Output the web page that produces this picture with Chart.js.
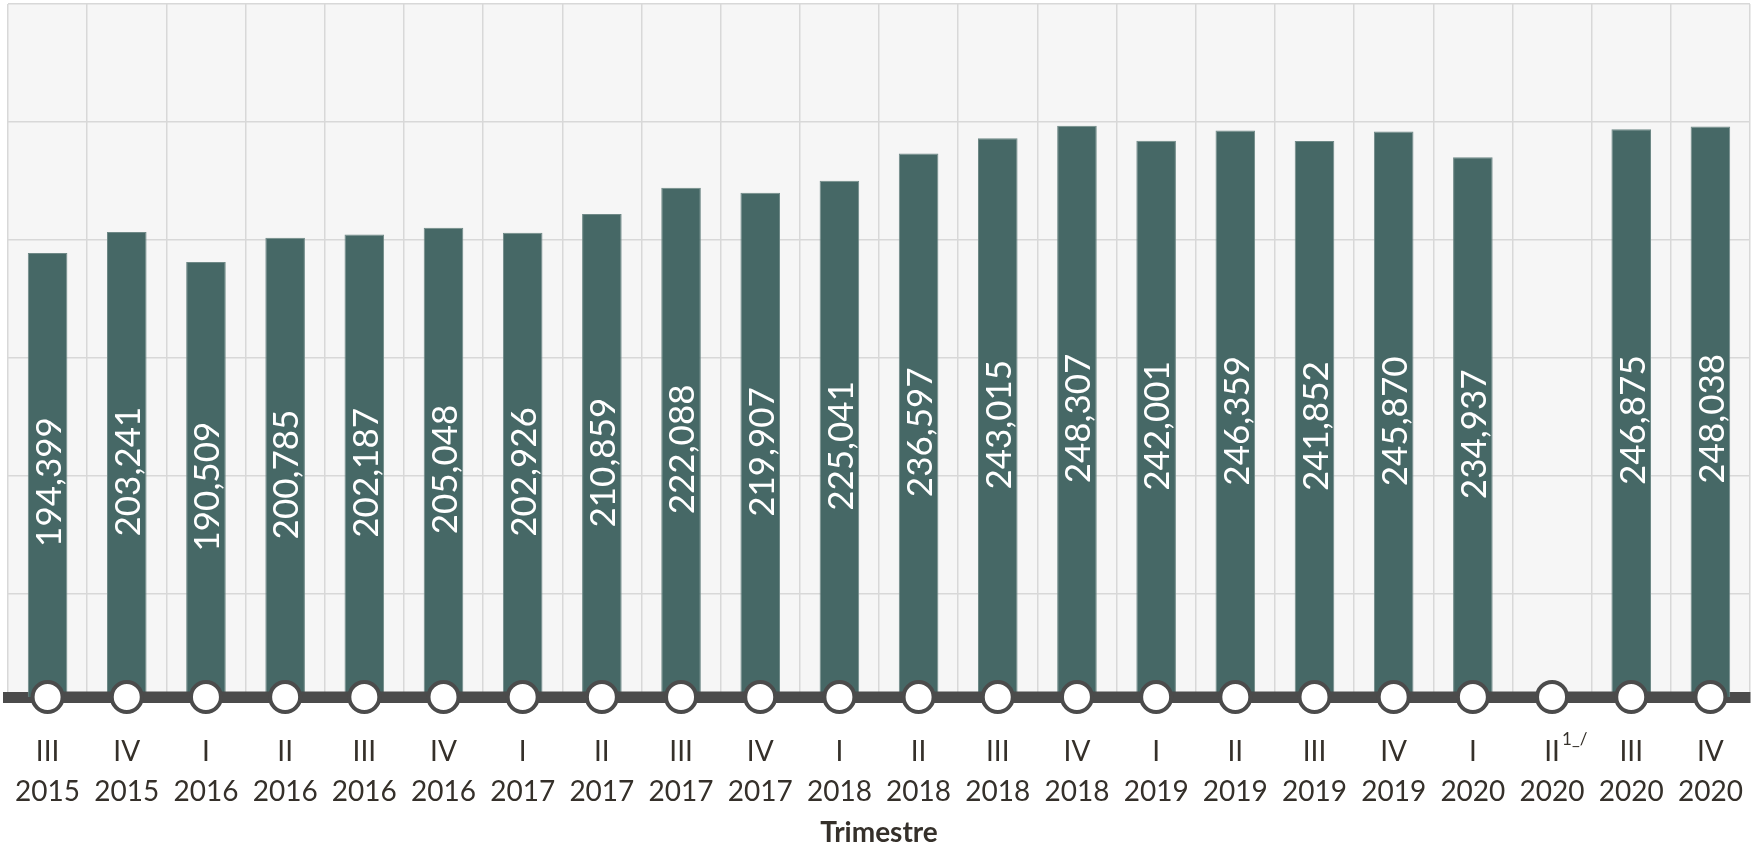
<!DOCTYPE html>
<html>
<head>
<meta charset="utf-8">
<title>Trimestre</title>
<script src="https://cdn.jsdelivr.net/npm/chart.js@4.4.1/dist/chart.umd.min.js"></script>
<style>
  html, body { margin: 0; padding: 0; background: #ffffff; }
  #wrap { position: relative; width: 1754px; height: 847px; }
</style>
</head>
<body>
<div id="wrap"><canvas id="chart"></canvas></div>
<script>
// quarter / year labels (two lines each)
const quarters = ["III", "IV", "I", "II", "III", "IV", "I", "II", "III", "IV", "I", "II",
  "III", "IV", "I", "II", "III", "IV", "I", "II", "III", "IV"];
const years = ["2015", "2015", "2016", "2016", "2016", "2016", "2017", "2017", "2017", "2017", "2018", "2018",
  "2018", "2018", "2019", "2019", "2019", "2019", "2020", "2020", "2020", "2020"];

// values per quarter (II 2020 has no value)
const values = [194399, 203241, 190509, 200785, 202187, 205048, 202926, 210859, 222088, 219907, 225041, 236597,
  243015, 248307, 242001, 246359, 241852, 245870, 234937, null, 246875, 248038];

// baseline markers (circles on the axis line)
const Y_MIN = 6000;
const Y_MAX = 300000;
const markers = [6000, 6000, 6000, 6000, 6000, 6000, 6000, 6000, 6000, 6000, 6000,
  6000, 6000, 6000, 6000, 6000, 6000, 6000, 6000, 6000, 6000, 6000];

// gridline values
const yTicks = [50000, 100000, 150000, 200000, 250000, 300000];

// footnote attached to the II 2020 label
const NOTE_INDEX = 19;
const NOTE_TEXT = "1_/";

const FONT = "Lato, 'Open Sans', sans-serif";
const TEXT_COLOR = "#35302a";
const BAR_COLOR = "#466866";
const AXIS_COLOR = "#4b4b4b";

const labels = quarters.map((q, i) => [q, years[i]]);

const fmt = (n) => n.toLocaleString("en-US");

// light grey plot background
const plotBg = {
  id: "plotBg",
  beforeDraw(chart) {
    const { ctx, chartArea: a } = chart;
    ctx.save();
    ctx.fillStyle = "#f6f6f6";
    ctx.fillRect(a.left, a.top, a.right - a.left, a.bottom - a.top);
    ctx.restore();
  }
};

// vertical white value labels inside the bars
const barLabels = {
  id: "barLabels",
  afterDatasetsDraw(chart) {
    const { ctx } = chart;
    const yScale = chart.scales.y;
    const meta = chart.getDatasetMeta(0);
    ctx.save();
    ctx.fillStyle = "#ffffff";
    ctx.font = "35px " + FONT;
    ctx.textAlign = "center";
    ctx.textBaseline = "middle";
    meta.data.forEach((bar, i) => {
      const v = values[i];
      if (v == null) return;
      const y = yScale.getPixelForValue(v / 2);
      ctx.save();
      ctx.translate(bar.x + 2, y);
      ctx.rotate(-Math.PI / 2);
      ctx.fillText(fmt(v), 0, 0);
      ctx.restore();
    });
    ctx.restore();
  }
};

// "1_/" superscript next to II 2020
const footnote = {
  id: "footnote",
  afterDraw(chart) {
    const { ctx } = chart;
    const xScale = chart.scales.x;
    const x = xScale.getPixelForTick(NOTE_INDEX);
    ctx.save();
    ctx.fillStyle = TEXT_COLOR;
    ctx.font = "17px " + FONT;
    ctx.textAlign = "left";
    ctx.textBaseline = "alphabetic";
    ctx.fillText(NOTE_TEXT, x + 10, xScale.top + 48);
    ctx.restore();
  }
};

new Chart(document.getElementById("chart"), {
  type: "bar",
  data: {
    labels,
    datasets: [
      {
        type: "bar",
        data: values,
        backgroundColor: BAR_COLOR,
        borderColor: "#6f8987",
        borderWidth: 1,
        barPercentage: 0.5,
        categoryPercentage: 1,
        order: 1
      },
      {
        type: "line",
        data: markers,
        borderColor: AXIS_COLOR,
        borderWidth: 11,
        pointRadius: 15,
        pointBorderWidth: 4,
        pointBackgroundColor: "#ffffff",
        pointBorderColor: AXIS_COLOR,
        tension: 0,
        clip: false,
        order: 0
      }
    ]
  },
  options: {
    responsive: true,
    maintainAspectRatio: false,
    animation: false,
    layout: { autoPadding: false, padding: { left: 8, right: 4, top: 4, bottom: 0 } },
    plugins: {
      legend: { display: false },
      tooltip: { enabled: false }
    },
    scales: {
      x: {
        offset: true,
        afterFit(scale) {
          scale.height = 150;
        },
        grid: {
          offset: true, color: "#d8d8d8", lineWidth: 1.5,
          drawTicks: true, tickLength: 35, tickColor: "rgba(0,0,0,0)"
        },
        border: { display: true, color: AXIS_COLOR, width: 11 },
        ticks: {
          color: TEXT_COLOR,
          font: { family: FONT, size: 28, lineHeight: 1.43 },
          padding: 0,
          maxRotation: 0,
          autoSkip: false
        },
        title: {
          display: true,
          text: "Trimestre",
          color: TEXT_COLOR,
          font: { family: FONT, size: 28, weight: "bold", lineHeight: 1 },
          padding: { top: 8, bottom: 0 }
        }
      },
      y: {
        min: Y_MIN,
        max: Y_MAX,
        afterBuildTicks(scale) {
          scale.ticks = yTicks.map(v => ({ value: v }));
        },
        grid: { color: "#d8d8d8", lineWidth: 1.5, drawTicks: false },
        border: { display: false },
        ticks: { display: false }
      }
    }
  },
  plugins: [plotBg, barLabels, footnote]
});
</script>
</body>
</html>
